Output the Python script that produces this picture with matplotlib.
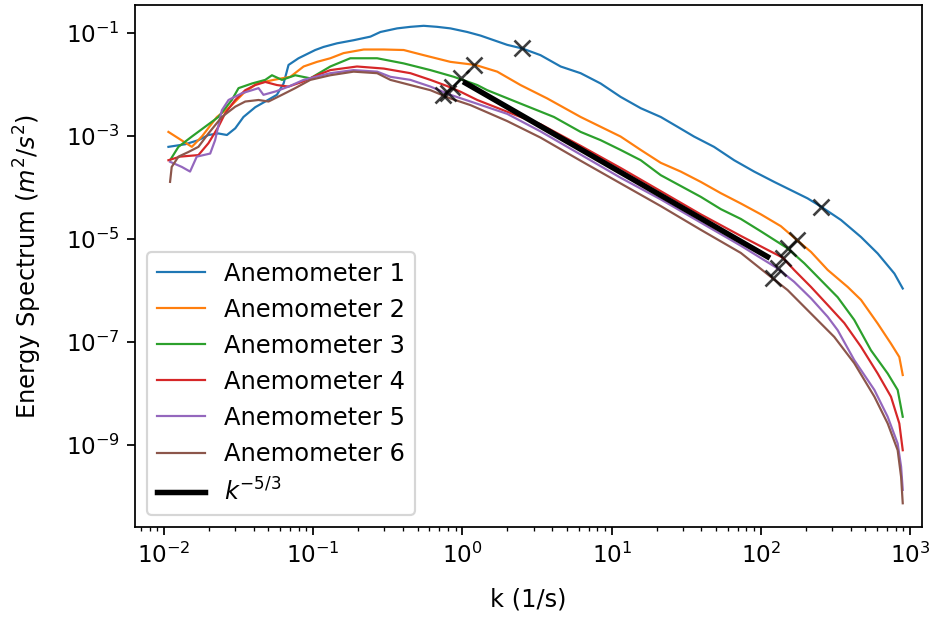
import numpy as np
import matplotlib
matplotlib.use("Agg")
import matplotlib.pyplot as plt
from matplotlib.ticker import NullLocator, LogLocator

# values, stored as log10(k) and log10(E)
log_k1 = [-1.971, -1.859, -1.770, -1.703, -1.636, -1.579, -1.523, -1.468, -1.389, -1.322,
          -1.244, -1.199, -1.166, -1.099, -0.987, -0.931, -0.841, -0.730, -0.617, -0.550,
          -0.438, -0.349, -0.260, -0.170, -0.081, 0.032, 0.121, 0.300, 0.401, 0.523,
          0.658, 0.792, 0.926, 1.060, 1.195, 1.329, 1.441, 1.552, 1.686, 1.821,
          1.955, 2.089, 2.201, 2.313, 2.403, 2.537, 2.671, 2.783, 2.895, 2.951]
log_E1 = [-3.21, -3.16, -3.08, -2.98, -2.95, -2.98, -2.85, -2.63, -2.44, -2.33,
          -2.20, -1.98, -1.62, -1.49, -1.33, -1.27, -1.20, -1.14, -1.07, -0.98,
          -0.91, -0.88, -0.86, -0.88, -0.91, -0.98, -1.05, -1.23, -1.30, -1.43,
          -1.65, -1.78, -1.98, -2.24, -2.46, -2.63, -2.82, -3.01, -3.21, -3.47,
          -3.69, -3.89, -4.05, -4.21, -4.37, -4.63, -4.96, -5.28, -5.67, -5.96]

log_k2 = [-1.971, -1.814, -1.747, -1.646, -1.557, -1.468, -1.378, -1.266, -1.154, -1.065,
          -0.975, -0.886, -0.797, -0.662, -0.528, -0.394, -0.260, -0.081, 0.087, 0.233,
          0.389, 0.568, 0.792, 0.926, 1.060, 1.195, 1.329, 1.463, 1.597, 1.732,
          1.866, 2.000, 2.134, 2.242, 2.336, 2.448, 2.582, 2.671, 2.783, 2.872,
          2.928, 2.951]
log_E2 = [-2.92, -3.21, -3.01, -2.63, -2.43, -2.17, -1.98, -1.91, -1.85, -1.65,
          -1.56, -1.49, -1.39, -1.32, -1.32, -1.33, -1.43, -1.56, -1.62, -1.75,
          -2.01, -2.27, -2.63, -2.82, -3.01, -3.27, -3.52, -3.69, -3.89, -4.11,
          -4.31, -4.52, -4.75, -5.02, -5.25, -5.60, -5.93, -6.18, -6.64, -7.03,
          -7.29, -7.64]

log_k3 = [-1.960, -1.904, -1.814, -1.725, -1.636, -1.546, -1.501, -1.411, -1.322, -1.277,
          -1.210, -1.121, -1.020, -0.886, -0.752, -0.572, -0.394, -0.215, -0.058, 0.099,
          0.166, 0.389, 0.613, 0.792, 0.926, 1.060, 1.195, 1.329, 1.463, 1.597,
          1.732, 1.866, 2.000, 2.179, 2.291, 2.403, 2.515, 2.626, 2.738, 2.850,
          2.917, 2.951]
log_E3 = [-3.47, -3.21, -3.01, -2.82, -2.63, -2.30, -2.07, -1.98, -1.91, -1.82,
          -1.91, -1.82, -1.88, -1.65, -1.49, -1.49, -1.59, -1.72, -1.85, -2.01,
          -2.11, -2.37, -2.63, -2.92, -3.08, -3.27, -3.47, -3.76, -3.97, -4.18,
          -4.42, -4.61, -4.85, -5.18, -5.47, -5.80, -6.13, -6.57, -7.16, -7.61,
          -7.93, -8.45]

log_k4 = [-1.971, -1.893, -1.770, -1.703, -1.636, -1.591, -1.523, -1.456, -1.389, -1.322,
          -1.244, -1.166, -1.076, -0.975, -0.886, -0.707, -0.528, -0.349, -0.215, -0.103,
          -0.013, 0.099, 0.389, 0.523, 0.792, 1.060, 1.329, 1.597, 1.866, 2.045,
          2.146, 2.223, 2.336, 2.448, 2.559, 2.671, 2.783, 2.872, 2.928, 2.951]
log_E4 = [-3.47, -3.40, -3.37, -3.14, -2.82, -2.56, -2.30, -2.11, -2.01, -1.95,
          -2.01, -2.04, -1.95, -1.82, -1.72, -1.65, -1.69, -1.78, -1.91, -2.03,
          -2.14, -2.30, -2.63, -2.77, -3.19, -3.62, -4.07, -4.52, -4.94, -5.21,
          -5.36, -5.60, -5.93, -6.28, -6.63, -7.09, -7.61, -8.06, -8.58, -9.10]

log_k5 = [-1.960, -1.881, -1.826, -1.781, -1.691, -1.658, -1.613, -1.568, -1.479, -1.411,
          -1.367, -1.334, -1.248, -1.166, -1.065, -0.886, -0.730, -0.572, -0.483, -0.349,
          -0.215, -0.081, 0.054, 0.300, 0.523, 0.792, 1.060, 1.329, 1.597, 1.866,
          2.112, 2.223, 2.336, 2.448, 2.515, 2.626, 2.761, 2.850, 2.917, 2.940,
          2.951]
log_E5 = [-3.50, -3.60, -3.69, -3.40, -3.34, -3.08, -2.50, -2.30, -2.17, -2.11,
          -2.07, -2.20, -2.13, -2.04, -1.91, -1.78, -1.72, -1.75, -1.85, -1.91,
          -2.04, -2.20, -2.33, -2.57, -2.91, -3.36, -3.81, -4.23, -4.68, -5.13,
          -5.57, -5.83, -6.15, -6.51, -6.77, -7.35, -7.93, -8.45, -8.97, -9.42,
          -9.87]

log_k6 = [-1.960, -1.949, -1.904, -1.837, -1.770, -1.703, -1.613, -1.523, -1.456, -1.367,
          -1.300, -1.210, -1.121, -1.020, -0.886, -0.730, -0.572, -0.483, -0.349, -0.215,
          -0.081, 0.054, 0.300, 0.523, 0.792, 1.060, 1.329, 1.597, 1.866, 2.078,
          2.179, 2.313, 2.492, 2.626, 2.761, 2.850, 2.917, 2.940, 2.951]
log_E6 = [-3.89, -3.60, -3.40, -3.31, -3.21, -2.95, -2.63, -2.43, -2.33, -2.30,
          -2.33, -2.20, -2.07, -1.91, -1.82, -1.75, -1.78, -1.91, -2.01, -2.11,
          -2.27, -2.40, -2.71, -3.03, -3.48, -3.92, -4.36, -4.82, -5.27, -5.76,
          -5.99, -6.38, -6.90, -7.41, -8.06, -8.58, -9.10, -9.62, -10.13]

# k^-5/3 reference line end points
ref_log_k = [0.020, 2.045]
ref_log_E = [-1.971, -5.344]

# inertial range bounds marked with x
mark_lo_k = [0.401, 0.074, -0.013, -0.067, -0.094, -0.128]
mark_lo_E = [-1.30, -1.62, -1.87, -2.05, -2.17, -2.20]
mark_hi_k = [2.403, 2.242, 2.179, 2.146, 2.112, 2.078]
mark_hi_E = [-4.37, -5.02, -5.18, -5.36, -5.57, -5.76]

labels = ["Anemometer %d" % i for i in range(1, 7)]
curves = [(log_k1, log_E1), (log_k2, log_E2), (log_k3, log_E3),
          (log_k4, log_E4), (log_k5, log_E5), (log_k6, log_E6)]

DPI = 158
fig = plt.figure(figsize=(933 / DPI, 617 / DPI), dpi=DPI)
ax = fig.add_axes([0.1447, 0.1459, 0.8435, 0.846])

for i, (lk, le) in enumerate(curves):
    ax.loglog(10 ** np.array(lk), 10 ** np.array(le), color="C%d" % i, lw=1.0, label=labels[i])

ax.loglog(10 ** np.array(ref_log_k), 10 ** np.array(ref_log_E), color="k", lw=2.5,
          label="$k^{-5/3}$")

mk = np.concatenate([mark_lo_k, mark_hi_k])
me = np.concatenate([mark_lo_E, mark_hi_E])
ax.loglog(10 ** mk, 10 ** me, "x", color="k", ms=7, mew=1.2, alpha=0.75, ls="none")

ax.set_xlim(10 ** -2.195, 10 ** 3.08)
ax.set_ylim(10 ** -10.59, 10 ** -0.456)
ax.set_yticks([1e-9, 1e-7, 1e-5, 1e-3, 1e-1])
ax.yaxis.set_minor_locator(NullLocator())
ax.xaxis.set_major_locator(LogLocator(base=10, numticks=20))
ax.xaxis.set_minor_locator(LogLocator(base=10, subs=np.arange(2, 10), numticks=20))
ax.tick_params(labelsize=10.5)

ax.set_xlabel("k (1/s)", fontsize=11, labelpad=9)
ax.set_ylabel("Energy Spectrum ($m^2/s^2$)", fontsize=11, labelpad=10)
ax.legend(loc="lower left", fontsize=11)

fig.savefig("out.png", dpi=DPI)
